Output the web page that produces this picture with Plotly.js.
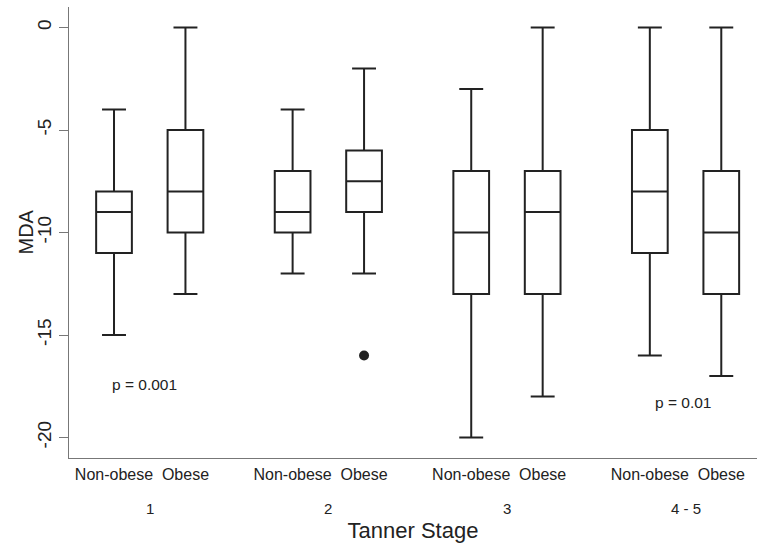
<!DOCTYPE html>
<html><head><meta charset="utf-8">
<script src="https://cdn.plot.ly/plotly-3.0.1.min.js"></script>
<style>body{margin:0;background:#fff}</style>
</head><body><div id="chart" style="width:759px;height:544px"></div>
<script>
const stages = ["1", "2", "3", "4 - 5"];
const groups = ["Non-obese", "Obese"];
const positions = [0, 2, 5, 7, 10, 12, 15, 17];
const stageCenters = [1, 6, 11, 16];
const lowerWhisker = [-15, -13, -12, -12, -20, -18, -16, -17];
const q1Values = [-11, -10, -10, -9, -13, -13, -11, -13];
const medianValues = [-9, -8, -9, -7.5, -10, -9, -8, -10];
const q3Values = [-8, -5, -7, -6, -7, -7, -5, -7];
const upperWhisker = [-4, 0, -4, -2, -3, 0, 0, 0];
const outlierX = [7];
const outlierY = [-16];
const pLabels = ["p = 0.001", "p = 0.01"];
const pX = [0.84, 15.94];
const pY = [-17.4, -18.3];

const ink = "#222222";
const axisCol = "#777777";
const font = "Liberation Sans, Arial, sans-serif";

const tickText = [];
positions.forEach((p, i) => tickText.push(groups[i % 2]));

const traces = [
  {
    type: "box",
    x: positions,
    q1: q1Values,
    median: medianValues,
    q3: q3Values,
    lowerfence: lowerWhisker,
    upperfence: upperWhisker,
    width: 1,
    whiskerwidth: 0.67,
    boxpoints: false,
    fillcolor: "#ffffff",
    line: {color: ink, width: 2},
    showlegend: false,
    hoverinfo: "skip"
  },
  {
    type: "scatter",
    mode: "markers",
    x: outlierX,
    y: outlierY,
    marker: {color: ink, size: 10},
    showlegend: false
  }
];

const annotations = [];
stages.forEach((s, i) => annotations.push({
  x: stageCenters[i], xref: "x", y: 0, yref: "paper",
  yanchor: "top", yshift: -40, showarrow: false, text: s,
  font: {family: font, size: 15, color: ink}
}));
pLabels.forEach((t, i) => annotations.push({
  x: pX[i], xref: "x", y: pY[i], yref: "y", showarrow: false, text: t,
  font: {family: font, size: 15.5, color: ink}
}));
annotations.push({
  x: 0, xref: "paper", xshift: -44, y: 0.5, yref: "paper",
  xanchor: "center", yanchor: "middle", textangle: -90, showarrow: false,
  text: "MDA", font: {family: font, size: 20, color: ink}
});

const layout = {
  width: 759, height: 544,
  margin: {l: 69, r: 2, t: 7, b: 86},
  paper_bgcolor: "#fff", plot_bgcolor: "#fff",
  font: {family: font, color: ink},
  xaxis: {
    range: [-1.26, 18.0],
    tickvals: positions, ticktext: tickText,
    ticks: "", showgrid: false, zeroline: false,
    showline: true, linecolor: axisCol, linewidth: 1,
    ticklabelstandoff: 2,
    tickfont: {family: font, size: 16, color: ink},
    title: {text: "Tanner Stage", font: {family: font, size: 22, color: ink}, standoff: 40},
    automargin: false
  },
  yaxis: {
    range: [-21, 1],
    tickvals: [0, -5, -10, -15, -20],
    ticktext: ["0", "-5", "-10", "-15", "-20"],
    ticks: "outside", ticklen: 9, tickcolor: axisCol,
    tickangle: -90,
    showgrid: false, zeroline: false,
    showline: true, linecolor: axisCol, linewidth: 1,
    tickfont: {family: font, size: 19, color: ink},
    automargin: false
  },
  annotations: annotations
};

Plotly.newPlot("chart", traces, layout, {displayModeBar: false, staticPlot: true});
</script>
</body></html>
